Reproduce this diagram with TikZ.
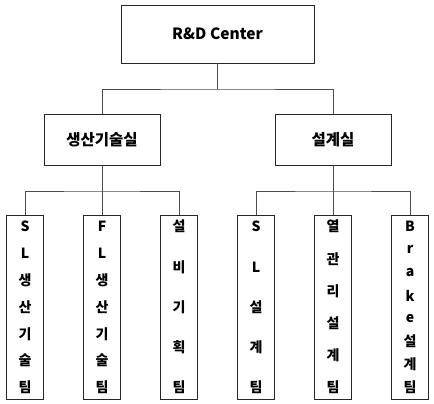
\documentclass[tikz,border=0pt]{standalone}
\usepackage{fontspec}
\setmainfont{Noto Sans CJK KR}
\usetikzlibrary{calc}
\tikzset{
  box/.style={draw=black!85, line width=0.9pt, fill=white, inner sep=0pt},
  topbox/.style={box, minimum width=193pt, minimum height=58pt, font=\bfseries\fontsize{15.5}{18}\selectfont},
  midbox/.style={box, minimum width=116pt, minimum height=51pt, font=\bfseries\fontsize{15.5}{18}\selectfont},
  leafbox/.style={box, minimum width=37pt, minimum height=184pt},
  chr/.style={inner sep=0pt, font=\bfseries\fontsize{14}{16}\selectfont},
  link/.style={draw=black!70, line width=0.9pt}
}
\newcommand\vstack[3]{%
  \foreach \c [count=\i] in {#3} {
    \node[chr] (#1c\i) at ([yshift={-(12+(\i-1)*161/(#2-1))*1pt}]#1.north) {\c};
  }%
}
\begin{document}
\begin{tikzpicture}[x=1pt,y=-1pt]
\useasboundingbox (0,0) rectangle (434,404);
\node[topbox] (top) at (217.5,34) {R\&D Center};
\node[midbox] (l) at (102,139.5) {생산기술실};
\node[midbox] (r) at (333,139.5) {설계실};
\coordinate (j1) at (217.5,89);
\coordinate (j2) at (102,191);
\coordinate (j3) at (333,191);
\node[leafbox] (b1) at (25,307) {};
\node[leafbox] (b2) at (102,307) {};
\node[leafbox] (b3) at (179,307) {};
\node[leafbox] (b4) at (256,307) {};
\node[leafbox] (b5) at (333,307) {};
\node[leafbox] (b6) at (410,307) {};
\vstack{b1}{7}{S,L,생,산,기,술,팀}
\vstack{b2}{7}{F,L,생,산,기,술,팀}
\vstack{b3}{5}{설,비,기,획,팀}
\vstack{b4}{5}{S,L,설,계,팀}
\vstack{b5}{6}{열,관,리,설,계,팀}
\vstack{b6}{8}{B,r,a,k,e,설,계,팀}
\draw[link] (top.south) -- (j1);
\draw[link] (l.north) |- (j1) -| (r.north);
\draw[link] (l.south) -- (j2);
\draw[link] (b1.north) |- (j2) -| (b3.north);
\draw[link] (j2) -- (b2.north);
\draw[link] (r.south) -- (j3);
\draw[link] (b4.north) |- (j3) -| (b6.north);
\draw[link] (j3) -- (b5.north);
\end{tikzpicture}
\end{document}
